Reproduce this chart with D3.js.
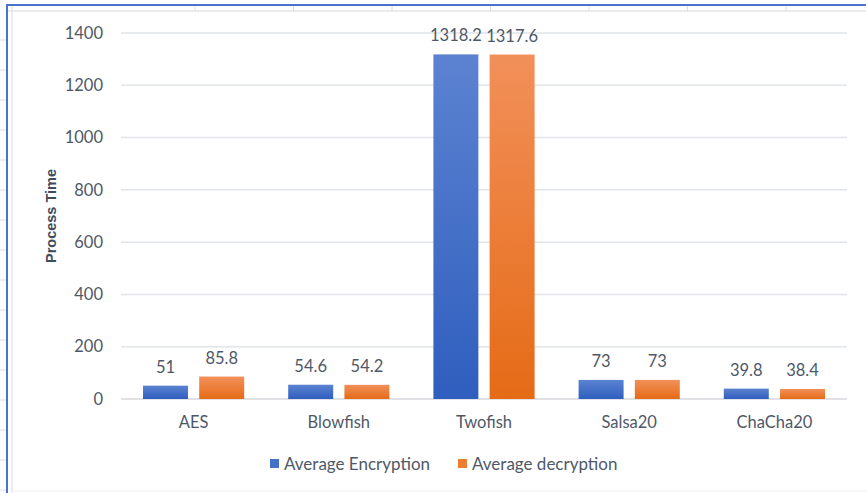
<!DOCTYPE html>
<html>
<head>
<meta charset="utf-8">
<script src="https://cdn.jsdelivr.net/npm/d3@7"></script>
<style>
  body { margin: 0; background: #fff; }
  svg text { font-family: Lato, "Open Sans", sans-serif; }
</style>
</head>
<body>
<div id="chart"></div>
<script>
const categories = ["AES", "Blowfish", "Twofish", "Salsa20", "ChaCha20"];
const seriesNames = ["Average Encryption", "Average decryption"];
const encryption = [51, 54.6, 1318.2, 73, 39.8];
const decryption = [85.8, 54.2, 1317.6, 73, 38.4];
const yTicks = [0, 200, 400, 600, 800, 1000, 1200, 1400];

const W = 866, H = 493;
const plot = { left: 121, right: 847, top: 33, bottom: 399 };
const textColor = "#4f5868";

const svg = d3.select("#chart").append("svg")
  .attr("width", W)
  .attr("height", H);

// gradients for bars
const defs = svg.append("defs");
const grads = [
  { id: "gBlue", top: "#5c83d1", bottom: "#2f5ebe" },
  { id: "gOrange", top: "#f2905a", bottom: "#e56b16" }
];
grads.forEach(g => {
  const lg = defs.append("linearGradient")
    .attr("id", g.id).attr("x1", 0).attr("y1", 0).attr("x2", 0).attr("y2", 1);
  lg.append("stop").attr("offset", "0%").attr("stop-color", g.top);
  lg.append("stop").attr("offset", "100%").attr("stop-color", g.bottom);
});
const fills = ["url(#gBlue)", "url(#gOrange)"];
const legendColors = ["#4472c4", "#ed7d31"];

// spreadsheet background bits
const sheet = svg.append("g");
sheet.append("line").attr("x1", 7).attr("x2", W).attr("y1", 11).attr("y2", 11)
  .attr("stroke", "#e3e6ea").attr("stroke-width", 1.5);
sheet.append("line").attr("x1", 12).attr("x2", 12).attr("y1", 6).attr("y2", H)
  .attr("stroke", "#e3e6ea").attr("stroke-width", 1.5);
sheet.append("line").attr("x1", 12).attr("x2", W).attr("y1", 491).attr("y2", 491)
  .attr("stroke", "#eceef1").attr("stroke-width", 1);
d3.range(195, W, 98.5).forEach(x => {
  sheet.append("line").attr("x1", x).attr("x2", x).attr("y1", 6).attr("y2", 11)
    .attr("stroke", "#d9dce1");
});
d3.range(40, H, 30).forEach(y => {
  sheet.append("line").attr("x1", 0).attr("x2", 7).attr("y1", y).attr("y2", y)
    .attr("stroke", "#d9dce1");
});
sheet.append("line").attr("x1", 7).attr("x2", W).attr("y1", 5).attr("y2", 5)
  .attr("stroke", "#4a74c9").attr("stroke-width", 2);
sheet.append("line").attr("x1", 7).attr("x2", 7).attr("y1", 4).attr("y2", H)
  .attr("stroke", "#4a74c9").attr("stroke-width", 2);

// scales
const x0 = d3.scaleBand().domain(categories).range([plot.left, plot.right]).paddingInner(0).paddingOuter(0);
const x1 = d3.scaleBand().domain(seriesNames).range([22, x0.bandwidth() - 22]).paddingInner(0.2);
const y = d3.scaleLinear().domain([0, 1400]).range([plot.bottom, plot.top]);

// gridlines
svg.append("g").selectAll("line").data(yTicks).join("line")
  .attr("x1", plot.left).attr("x2", plot.right)
  .attr("y1", d => y(d)).attr("y2", d => y(d))
  .attr("stroke", d => d === 0 ? "#d6d9de" : "#e1e4e8")
  .attr("stroke-width", 1.5);

// y axis labels
const yAxis = svg.append("g")
  .attr("transform", `translate(${plot.left},0)`)
  .call(d3.axisLeft(y).tickValues(yTicks).tickFormat(d3.format("d")).tickSize(0).tickPadding(18));
yAxis.select(".domain").remove();
yAxis.selectAll("text").attr("font-size", 16.5).attr("fill", textColor);

// x axis labels
const xAxis = svg.append("g")
  .attr("transform", `translate(0,${plot.bottom})`)
  .call(d3.axisBottom(x0).tickSize(0).tickPadding(17));
xAxis.select(".domain").remove();
xAxis.selectAll("text").attr("font-size", 16.5).attr("fill", textColor);

// bars
const rows = categories.map((c, i) => ({ cat: c, vals: [encryption[i], decryption[i]] }));
const groups = svg.append("g").selectAll("g").data(rows).join("g")
  .attr("transform", d => `translate(${x0(d.cat)},0)`);

groups.selectAll("rect").data(d => d.vals.map((v, k) => ({ v, k }))).join("rect")
  .attr("x", d => x1(seriesNames[d.k]))
  .attr("width", x1.bandwidth())
  .attr("y", d => y(d.v))
  .attr("height", d => y(0) - y(d.v))
  .attr("fill", d => fills[d.k]);

groups.selectAll("text").data(d => d.vals.map((v, k) => ({ v, k }))).join("text")
  .attr("x", d => x1(seriesNames[d.k]) + x1.bandwidth() / 2)
  .attr("y", d => y(d.v) - 13)
  .attr("text-anchor", "middle")
  .attr("font-size", 16.5)
  .attr("fill", textColor)
  .text(d => d.v);

// y axis title
svg.append("text")
  .attr("transform", "translate(56,216) rotate(-90)")
  .attr("text-anchor", "middle")
  .style("font-family", "'Liberation Sans', Arial, sans-serif")
  .attr("font-size", 14.5)
  .attr("font-weight", "bold")
  .attr("fill", "#414b5a")
  .text("Process Time");

// legend
const legendX = [270, 458];
const legend = svg.append("g").selectAll("g").data(seriesNames).join("g")
  .attr("transform", (d, i) => `translate(${legendX[i]},464)`);
legend.append("rect").attr("x", 0).attr("y", -5).attr("width", 9).attr("height", 9)
  .attr("fill", (d, i) => legendColors[i]);
legend.append("text").attr("x", 14).attr("y", 5.5)
  .attr("font-size", 17).attr("fill", textColor)
  .text(d => d);
</script>
</body>
</html>
